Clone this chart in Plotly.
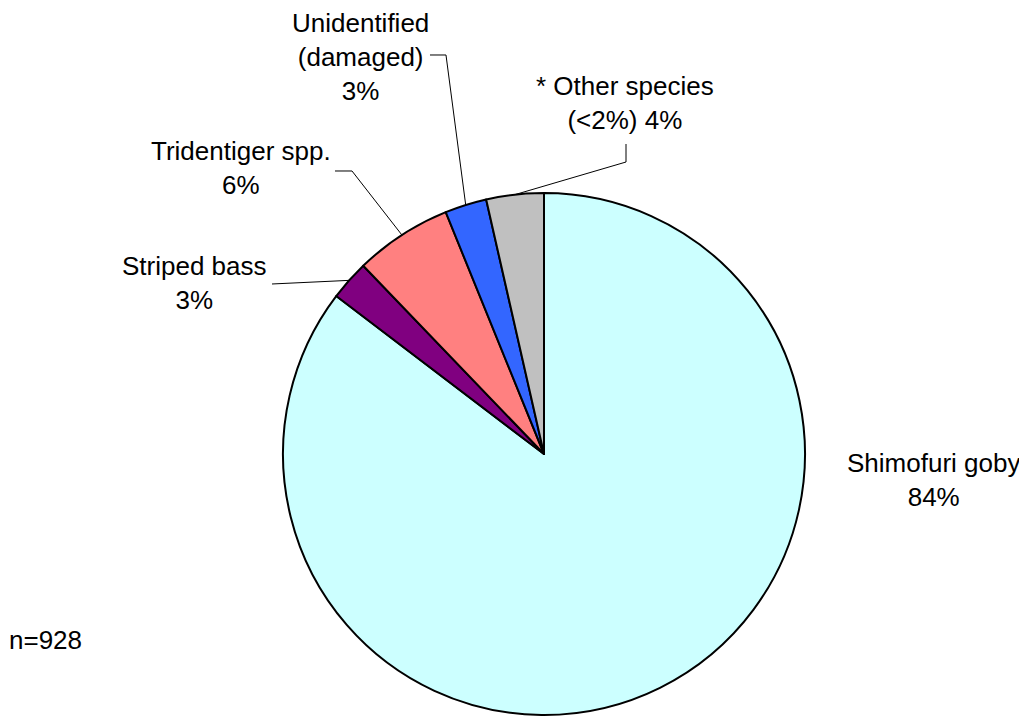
import math

import plotly.graph_objects as go

# data (slice sizes from the drawn angles, n=928)
species = ["Shimofuri goby", "Striped bass", "Tridentiger spp.", "Unidentified (damaged)", "* Other species (<2%)"]
counts = [792, 23, 56, 24, 33]
pct_labels = ["84%", "3%", "6%", "3%", "4%"]
label_text = [
    "Shimofuri goby<br>84%",
    "Striped bass<br>3%",
    "Tridentiger spp.<br>6%",
    "Unidentified<br>(damaged)<br>3%",
    "* Other species<br>(&lt;2%) 4%",
]
colors = ["#CCFFFF", "#800080", "#FF8080", "#3366FF", "#C0C0C0"]
n_total = 928

# page body has an 8px margin, so the figure is drawn 8px in from the window corner
OFF = 8
W, H = 1027 - OFF, 717 - OFF
CX, CY, R = 544 - OFF, 454 - OFF, 261

# label centres and leader-line start/elbow, in window pixels
label_pos = [(933, 480), (194, 283), (241, 168), (360, 57), (625, 103)]
leader_pts = [None, [(272, 284)], [(335, 171), (352, 171)], [(430, 55), (446, 55)], [(626, 144), (626, 162)]]


def px(x, y, off=OFF):
    return (x - off) / W, 1 - (y - off) / H


fig = go.Figure(
    go.Pie(
        labels=species,
        values=counts,
        sort=False,
        direction="clockwise",
        rotation=0,
        marker=dict(colors=colors, line=dict(color="black", width=2)),
        textinfo="none",
        hoverinfo="label+percent",
        domain=dict(x=[(CX - R) / W, (CX + R) / W], y=[(H - CY - R) / H, (H - CY + R) / H]),
        showlegend=False,
    )
)

total = sum(counts)
cum = 0
for i, v in enumerate(counts):
    mid = math.radians(360 * (cum + v / 2) / total)
    cum += v
    ax, ay = px(*label_pos[i])
    fig.add_annotation(
        x=ax, y=ay, xref="paper", yref="paper", text=label_text[i], showarrow=False,
        xanchor="center", yanchor="middle", align="center",
        font=dict(family="Arial, Liberation Sans, sans-serif", size=26, color="black"),
    )
    if leader_pts[i]:
        # end of the leader sits on the rim at the slice's middle angle (figure pixels)
        end = (CX + R * math.sin(mid), CY - R * math.cos(mid))
        pts = [px(*p) for p in leader_pts[i]] + [px(*end, off=0)]
        path = "M " + " L ".join(f"{x:.5f},{y:.5f}" for x, y in pts)
        fig.add_shape(type="path", path=path, xref="paper", yref="paper", line=dict(color="black", width=1))

nx, ny = px(45, 640)
fig.add_annotation(
    x=nx, y=ny, xref="paper", yref="paper", text=f"n={n_total}", showarrow=False,
    xanchor="center", yanchor="middle",
    font=dict(family="Arial, Liberation Sans, sans-serif", size=26, color="black"),
)

fig.update_layout(
    width=W, height=H,
    margin=dict(l=0, r=0, t=0, b=0),
    paper_bgcolor="white",
    plot_bgcolor="white",
)

fig.write_html("out.html")
